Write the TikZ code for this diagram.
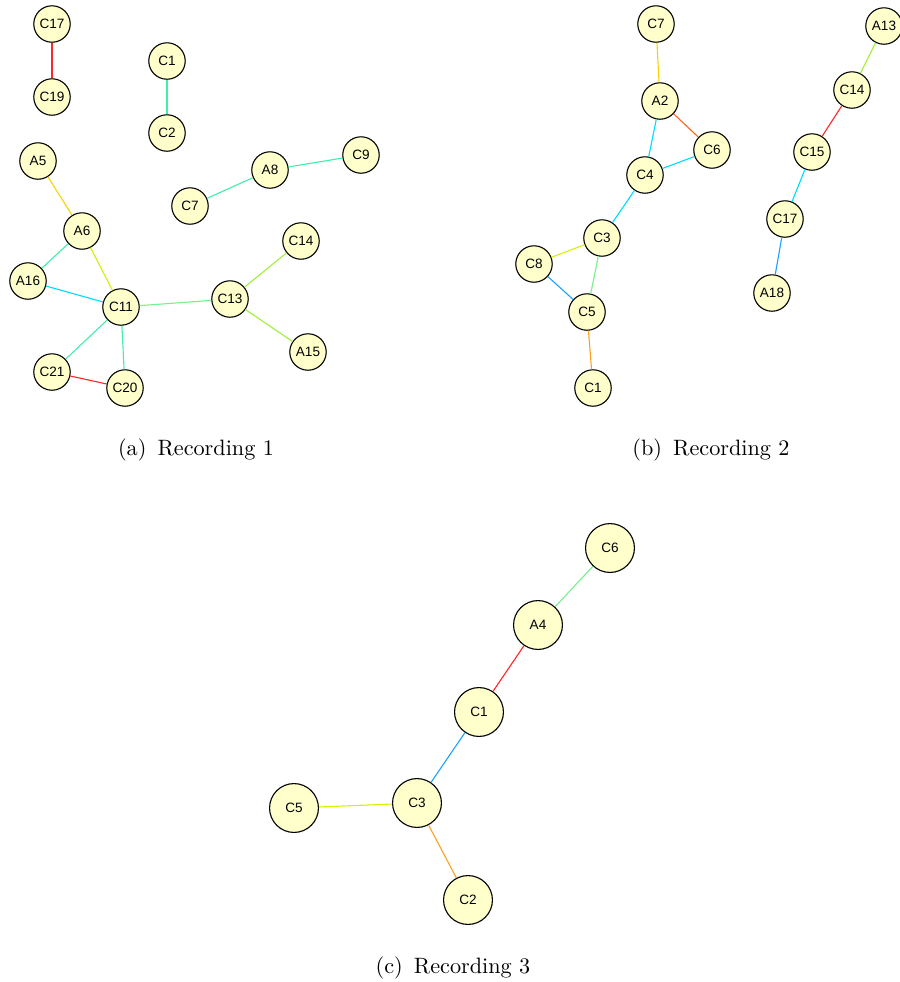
\documentclass[tikz,border=0pt]{standalone}
\usepackage{fontspec}
\newfontfamily\nodefont{Liberation Sans}
\usepackage{tikz}
\usepackage{xcolor}
\definecolor{nodefill}{RGB}{255,255,204}
\definecolor{edgered}{RGB}{250,40,40}
\definecolor{edgegold}{RGB}{250,210,0}
\definecolor{edgeyellow}{RGB}{215,240,0}
\definecolor{edgeaqua}{RGB}{64,238,170}
\definecolor{edgecyan}{RGB}{0,220,250}
\definecolor{edgegreen}{RGB}{120,240,140}
\definecolor{edgelime}{RGB}{160,240,60}
\definecolor{edgeorange}{RGB}{255,160,30}
\definecolor{edgeorred}{RGB}{255,100,30}
\definecolor{edgeblue}{RGB}{30,160,255}

\begin{document}
\begin{tikzpicture}[
    x=0.45pt, y=-0.45pt,
    vtx/.style={circle, draw=black, line width=0.5pt, fill=nodefill,
                minimum size=16.4pt, inner sep=0pt, font=\nodefont\fontsize{6.1}{7}\selectfont},
    bigvtx/.style={vtx, minimum size=22pt},
    link/.style={line width=0.5pt},
    subcap/.style={font=\normalsize}
]
\useasboundingbox (0,0) rectangle (899,982);

% --- (a) Recording 1 ---
\node[vtx] (aC17) at (52,24) {C17};
\node[vtx] (aC19) at (52,97) {C19};
\node[vtx] (aC1) at (167,61) {C1};
\node[vtx] (aC2) at (167,133) {C2};
\node[vtx] (aA5) at (38,161) {A5};
\node[vtx] (aA6) at (82,231) {A6};
\node[vtx] (aA16) at (28,281) {A16};
\node[vtx] (aC11) at (121,307) {C11};
\node[vtx] (aC13) at (230,299) {C13};
\node[vtx] (aC14) at (301,241) {C14};
\node[vtx] (aA15) at (308,352) {A15};
\node[vtx] (aC21) at (52,372) {C21};
\node[vtx] (aC20) at (125,388) {C20};
\node[vtx] (aA8) at (270,170) {A8};
\node[vtx] (aC9) at (361,155) {C9};
\node[vtx] (aC7) at (190,206) {C7};

\draw[link, edgered] (aC17) -- (aC19);
\draw[link, edgeaqua] (aC1) -- (aC2);
\draw[link, edgegold] (aA5) -- (aA6);
\draw[link, edgeyellow] (aA6) -- (aC11);
\draw[link, edgeaqua] (aA6) -- (aA16);
\draw[link, edgecyan] (aA16) -- (aC11);
\draw[link, edgegreen] (aC11) -- (aC13);
\draw[link, edgelime] (aC13) -- (aC14);
\draw[link, edgelime] (aC13) -- (aA15);
\draw[link, edgeaqua] (aC11) -- (aC21);
\draw[link, edgeaqua] (aC11) -- (aC20);
\draw[link, edgered] (aC21) -- (aC20);
\draw[link, edgeaqua] (aA8) -- (aC9);
\draw[link, edgeaqua] (aA8) -- (aC7);

\node[subcap] (capa) at (196,450) {(a)\hspace{0.5em}Recording 1};

% --- (b) Recording 2 ---
\node[vtx] (bC7) at (656,24) {C7};
\node[vtx] (bA2) at (660,101) {A2};
\node[vtx] (bC6) at (712,150) {C6};
\node[vtx] (bC4) at (645,175) {C4};
\node[vtx] (bC3) at (602,238) {C3};
\node[vtx] (bC8) at (534,264) {C8};
\node[vtx] (bC5) at (587,312) {C5};
\node[vtx] (bC1) at (593,388) {C1};
\node[vtx] (bA13) at (884,26) {A13};
\node[vtx] (bC14) at (852,90) {C14};
\node[vtx] (bC15) at (812,152) {C15};
\node[vtx] (bC17) at (785,219) {C17};
\node[vtx] (bA18) at (772,293) {A18};

\draw[link, edgegold] (bC7) -- (bA2);
\draw[link, edgeorred] (bA2) -- (bC6);
\draw[link, edgecyan] (bA2) -- (bC4);
\draw[link, edgecyan] (bC4) -- (bC6);
\draw[link, edgecyan] (bC4) -- (bC3);
\draw[link, edgeyellow] (bC3) -- (bC8);
\draw[link, edgegreen] (bC3) -- (bC5);
\draw[link, edgeblue] (bC8) -- (bC5);
\draw[link, edgeorange] (bC5) -- (bC1);
\draw[link, edgelime] (bA13) -- (bC14);
\draw[link, edgered] (bC14) -- (bC15);
\draw[link, edgecyan] (bC15) -- (bC17);
\draw[link, edgeblue] (bC17) -- (bA18);

\node[subcap] (capb) at (711,450) {(b)\hspace{0.5em}Recording 2};

% --- (c) Recording 3 ---
\node[bigvtx] (cC6) at (610,548) {C6};
\node[bigvtx] (cA4) at (538,625) {A4};
\node[bigvtx] (cC1) at (479,712) {C1};
\node[bigvtx] (cC3) at (417,803) {C3};
\node[bigvtx] (cC5) at (294,808) {C5};
\node[bigvtx] (cC2) at (468,900) {C2};

\draw[link, edgegreen] (cC6) -- (cA4);
\draw[link, edgered] (cA4) -- (cC1);
\draw[link, edgeblue] (cC1) -- (cC3);
\draw[link, edgeyellow] (cC3) -- (cC5);
\draw[link, edgeorange] (cC3) -- (cC2);

\node[subcap] (capc) at (453,968) {(c)\hspace{0.5em}Recording 3};

\end{tikzpicture}
\end{document}
